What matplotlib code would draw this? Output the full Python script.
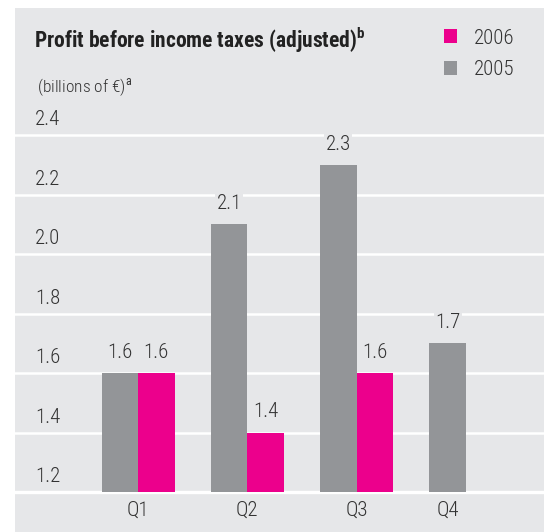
import numpy as np
import matplotlib
matplotlib.use('Agg')
import matplotlib.pyplot as plt
from matplotlib.patches import Rectangle, Patch

plt.rcParams['font.family'] = ['Roboto Condensed', 'DejaVu Sans']
plt.rcParams['mathtext.fontset'] = 'custom'
plt.rcParams['mathtext.rm'] = 'Roboto Condensed'
plt.rcParams['mathtext.bf'] = 'Roboto Condensed:bold'

quarters = ['Q1', 'Q2', 'Q3', 'Q4']
values_2005 = [1.6, 2.1, 2.3, 1.7]
values_2006 = [1.6, 1.4, 1.6, np.nan]
value_labels_2005 = ['1.6', '2.1', '2.3', '1.7']
value_labels_2006 = ['1.6', '1.4', '1.6', '']
y_ticks = [1.2, 1.4, 1.6, 1.8, 2.0, 2.2, 2.4]

PANEL = '#e6e7e9'
GREY = '#939598'
PINK = '#ec008c'
TEXT = '#333333'

W, H = 544, 532
fig = plt.figure(figsize=(W / 100, H / 100), dpi=100)
fig.patch.set_facecolor('white')
fig.patches.append(Rectangle((15 / W, 0), 1 - 15 / W, 1 - 8 / H,
                             transform=fig.transFigure, facecolor=PANEL,
                             edgecolor='none', zorder=-5))

ax = fig.add_axes([15 / W, 40 / H, 1 - 15 / W, (492 - 135) / H])
ax.set_facecolor('none')
ax.set_ylim(1.2, 2.4)
step = 109.3
ax.set_xlim((15 - 138) / step, (544 - 138) / step)

x = np.arange(len(quarters))
bw = 36.5 / step

for y in y_ticks:
    ax.axhline(y, color='white', lw=1.8 if y > 1.2 else 2.4, zorder=1, clip_on=False)
    ax.annotate(f'{y:.1f}', xy=(0, y), xycoords=('axes fraction', 'data'),
                xytext=(14.5, 4), textcoords='offset points',
                ha='left', va='bottom', fontsize=15, fontweight='light', color=TEXT)

b05 = ax.bar(x - bw / 2, values_2005, bw, color=GREY, zorder=2)
b06 = ax.bar(x + bw / 2, values_2006, bw, color=PINK, zorder=2)

for bars, labels in ((b05, value_labels_2005), (b06, value_labels_2006)):
    for rect, lab in zip(bars, labels):
        if not lab:
            continue
        ax.annotate(lab, xy=(rect.get_x() + rect.get_width() / 2, rect.get_height()),
                    xytext=(0, 8), textcoords='offset points', ha='center', va='bottom',
                    fontsize=15, fontweight='light', color=TEXT, zorder=3,
                    bbox=dict(facecolor=PANEL, edgecolor='none', pad=1.0))

tick_pos = [xi if not np.isnan(v6) else xi - bw / 2 for xi, v6 in zip(x, values_2006)]
ax.set_xticks(tick_pos)
ax.set_xticklabels(quarters, fontsize=15, fontweight='light', color=TEXT)
ax.tick_params(axis='x', length=0, pad=6)
ax.set_yticks([])
for s in ax.spines.values():
    s.set_visible(False)

fig.text(34 / W, 1 - 40 / H, r'Profit before income taxes (adjusted)$^{\mathbf{b}}$',
         fontsize=15.5, fontweight='bold', color='#222222', va='center', ha='left')
fig.text(37 / W, 1 - 87 / H, r'(billions of €)$^{\mathrm{a}}$',
         fontsize=12.5, fontweight='light', color=TEXT, va='center', ha='left')

handles = [Patch(facecolor=PINK, label='2006'), Patch(facecolor=GREY, label='2005')]
leg = fig.legend(handles=handles, loc='upper left', bbox_to_anchor=(425 / W, 1 - 10 / H),
                 frameon=False, fontsize=15, handlelength=0.65, handleheight=0.65,
                 handletextpad=0.8, labelspacing=0.6, labelcolor=TEXT)
for t in leg.get_texts():
    t.set_fontweight('light')

fig.savefig('out.png', dpi=100, facecolor='white')
